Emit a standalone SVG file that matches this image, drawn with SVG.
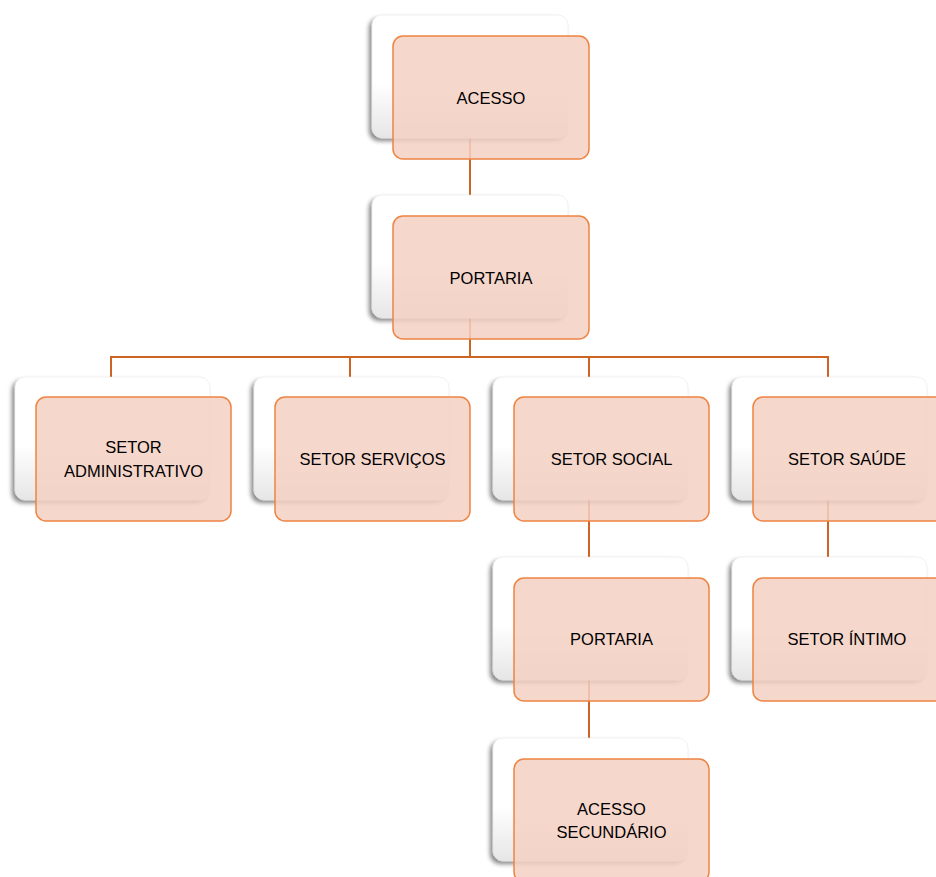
<svg xmlns="http://www.w3.org/2000/svg" width="936" height="877" viewBox="0 0 936 877">
<defs>
<linearGradient id="cardGrad" x1="0" y1="0" x2="0" y2="1">
<stop offset="0" stop-color="#ffffff"/>
<stop offset="0.55" stop-color="#ffffff"/>
<stop offset="1" stop-color="#e6e6e6"/>
</linearGradient>
<filter id="shadow" x="-10%" y="-10%" width="120%" height="125%">
<feDropShadow dx="-3" dy="3" stdDeviation="2" flood-color="#000" flood-opacity="0.45"/>
</filter>
<style>
.card{fill:url(#cardGrad);stroke:#e2e2e2;stroke-width:0.5;filter:url(#shadow)}
.box{fill:#f5d0c3;fill-opacity:0.85;stroke:#ee8442;stroke-width:1.5}
.lbl{font-family:"Liberation Sans",Arial,sans-serif;font-size:16.5px;fill:#000;text-anchor:middle}
.conn{fill:none;stroke:#cc6424;stroke-width:2}
</style>
</defs>
<rect width="936" height="877" fill="#ffffff"/>
<g id="connectors">
<path class="conn" d="M470 138 V195"/>
<path class="conn" d="M470 318 V357 M111 377 V357 H828 V377 M350 357 V377 M589 357 V377"/>
<path class="conn" d="M589 500 V557"/>
<path class="conn" d="M828 500 V557"/>
<path class="conn" d="M589 680 V738"/>
</g>
<g id="acesso">
<rect class="card" x="372" y="15" width="196" height="123" rx="10"/>
<rect class="box" x="393" y="36" width="196" height="123" rx="10"/>
<text class="lbl" x="491" y="104">ACESSO</text>
</g>
<g id="portaria">
<rect class="card" x="372" y="195" width="196" height="123" rx="10"/>
<rect class="box" x="393" y="216" width="196" height="123" rx="10"/>
<text class="lbl" x="491" y="284">PORTARIA</text>
</g>
<g id="setor-administrativo">
<rect class="card" x="15" y="377" width="195" height="123" rx="10"/>
<rect class="box" x="36" y="397" width="195" height="124" rx="10"/>
<text class="lbl" x="133.5" y="453">SETOR</text>
<text class="lbl" x="133.5" y="477">ADMINISTRATIVO</text>
</g>
<g id="setor-servicos">
<rect class="card" x="254" y="377" width="195" height="123" rx="10"/>
<rect class="box" x="275" y="397" width="195" height="124" rx="10"/>
<text class="lbl" x="372.5" y="465">SETOR SERVIÇOS</text>
</g>
<g id="setor-social">
<rect class="card" x="493" y="377" width="195" height="123" rx="10"/>
<rect class="box" x="514" y="397" width="195" height="124" rx="10"/>
<text class="lbl" x="611.5" y="465">SETOR SOCIAL</text>
</g>
<g id="setor-saude">
<rect class="card" x="732" y="377" width="195" height="123" rx="10"/>
<rect class="box" x="753" y="397" width="195" height="124" rx="10"/>
<text class="lbl" x="847" y="465">SETOR SAÚDE</text>
</g>
<g id="portaria-2">
<rect class="card" x="493" y="557" width="195" height="123" rx="10"/>
<rect class="box" x="514" y="578" width="195" height="123" rx="10"/>
<text class="lbl" x="611.5" y="645">PORTARIA</text>
</g>
<g id="setor-intimo">
<rect class="card" x="732" y="557" width="195" height="123" rx="10"/>
<rect class="box" x="753" y="578" width="195" height="123" rx="10"/>
<text class="lbl" x="847" y="645">SETOR ÍNTIMO</text>
</g>
<g id="acesso-secundario">
<rect class="card" x="493" y="738" width="195" height="123" rx="10"/>
<rect class="box" x="514" y="759" width="195" height="123" rx="10"/>
<text class="lbl" x="611.5" y="815">ACESSO</text>
<text class="lbl" x="611.5" y="838">SECUNDÁRIO</text>
</g>
</svg>
